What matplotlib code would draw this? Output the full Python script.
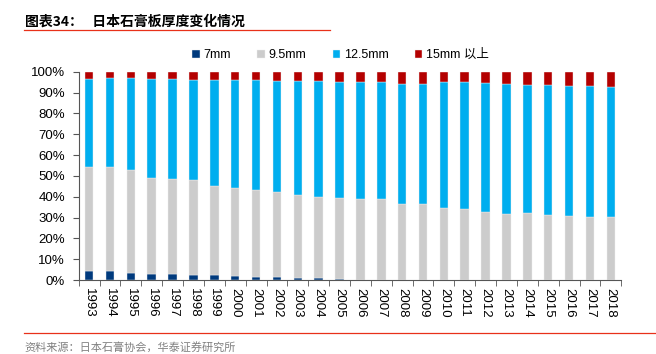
import matplotlib.pyplot as plt
import numpy as np
from matplotlib.lines import Line2D

plt.rcParams['font.family'] = ['Liberation Sans', 'Noto Sans CJK SC', 'DejaVu Sans']

years = [str(y) for y in range(1993, 2019)]
# cumulative tops (%)
top_7 = [4.5, 4.2, 3.5, 2.9, 2.7, 2.2, 2.2, 1.8, 1.4, 1.3, 1.1, 0.8, 0.4,
         0.0, 0.0, 0.0, 0.0, 0.0, 0.0, 0.0, 0.0, 0.0, 0.0, 0.0, 0.0, 0.0]
top_95 = [54.3, 54.3, 53.0, 49.2, 48.7, 47.9, 45.2, 44.2, 43.1, 42.1, 40.9, 39.7, 39.3,
          38.9, 39.1, 36.7, 36.4, 34.6, 34.0, 32.5, 31.9, 32.4, 31.4, 30.9, 30.4, 30.3]
top_125 = [96.6, 97.0, 97.0, 96.8, 96.6, 96.2, 96.2, 96.0, 96.0, 95.7, 95.7, 95.5, 95.2,
           94.9, 94.9, 94.4, 94.4, 94.9, 94.9, 94.7, 94.4, 93.9, 93.9, 93.4, 93.1, 92.8]

s7 = np.array(top_7)
s95 = np.array(top_95) - s7
s125 = np.array(top_125) - np.array(top_95)
s15 = 100 - np.array(top_125)

names = ['7mm', '9.5mm', '12.5mm', '15mm 以上']
colors = ['#003A7D', '#CCCCCC', '#00AEEF', '#B40000']

fig = plt.figure(figsize=(6.56, 3.54), dpi=100)
ax = fig.add_axes([0.120, 0.209, 0.827, 0.588])

x = np.arange(len(years))
bottom = np.zeros(len(years))
for vals, name, c in zip([s7, s95, s125, s15], names, colors):
    ax.bar(x, vals, 0.41, bottom=bottom, color=c, label=name,
           edgecolor='#EEEEEE', linewidth=0.3)
    bottom += vals

ax.set_xlim(-0.5, len(years) - 0.5)
ax.set_ylim(0, 100)
ax.set_yticks(np.arange(0, 101, 10))
ax.set_yticklabels([f'{v}%' for v in range(0, 101, 10)], fontsize=9.5)
ax.set_xticks(x)
ax.set_xticklabels(years, rotation=270, fontsize=9.5)
ax.set_xticks(np.arange(-0.5, len(years), 1), minor=True)
ax.tick_params(axis='x', which='major', length=0, pad=6)
ax.tick_params(axis='x', which='minor', length=4, color='#555555')
ax.tick_params(axis='y', length=4, color='#555555', pad=6)
for s in ['top', 'right']:
    ax.spines[s].set_visible(False)
for s in ['left', 'bottom']:
    ax.spines[s].set_color('#555555')
    ax.spines[s].set_linewidth(0.8)

ax.legend(loc='center', bbox_to_anchor=(0.483, 1.08), ncol=4, frameon=False,
          fontsize=9, handlelength=0.6, handleheight=0.6, handletextpad=0.3,
          columnspacing=2.1)

fig.text(0.038, 0.94, '图表34：   日本石膏板厚度变化情况', fontsize=10,
         fontweight='bold', family=['Noto Sans CJK SC', 'DejaVu Sans'], va='center')
fig.add_artist(Line2D([0.036, 0.503], [0.915, 0.915], color='#E8311A', lw=0.9))
fig.add_artist(Line2D([0.036, 1.0], [0.059, 0.059], color='#E8311A', lw=0.9))
fig.text(0.037, 0.020, '资料来源：日本石膏协会，华泰证券研究所', fontsize=8,
         color='#808080', family=['Noto Sans CJK SC', 'DejaVu Sans'], va='center')

fig.savefig('out.png', dpi=100)
